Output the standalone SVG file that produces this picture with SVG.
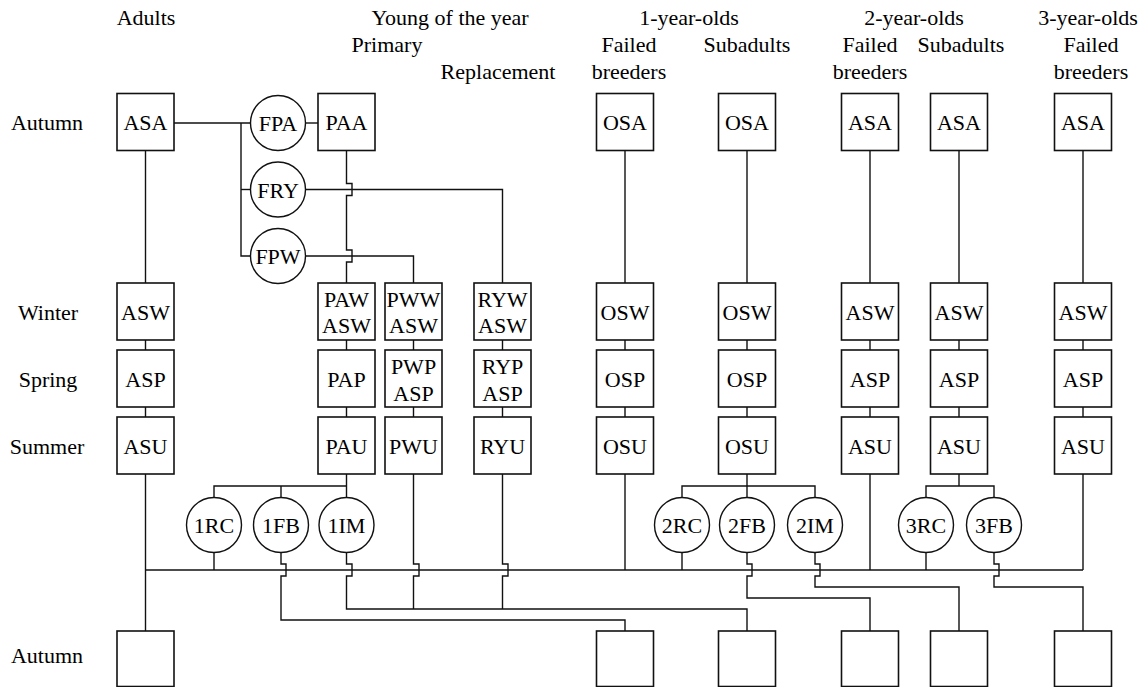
<svg xmlns="http://www.w3.org/2000/svg" width="1139" height="687" viewBox="0 0 1139 687">
  <style>
    text { font-size: 22px; fill: #000; text-anchor: middle; }
    .box { fill: #fff; stroke: #111; stroke-width: 1.6; }
    .state { fill: #fff; stroke: #111; stroke-width: 1.4; }
    .link { fill: none; stroke: #111; stroke-width: 1.4; }
  </style>
  <defs>
    <rect id="sq" class="box" width="57" height="57"/>
  </defs>
  <rect width="1139" height="687" fill="#fff"/>

  <g font-family="Liberation Serif, Tinos, Times New Roman, DejaVu Serif, serif">
  <!-- column headings -->
  <g id="headings">
    <text x="146" y="25">Adults</text>
    <text x="450" y="25">Young of the year</text>
    <text x="387" y="52">Primary</text>
    <text x="498" y="79">Replacement</text>
    <text x="689" y="25">1-year-olds</text>
    <text x="629" y="52">Failed</text>
    <text x="629" y="79">breeders</text>
    <text x="747" y="52">Subadults</text>
    <text x="914" y="25">2-year-olds</text>
    <text x="870" y="52">Failed</text>
    <text x="870" y="79">breeders</text>
    <text x="961" y="52">Subadults</text>
    <text x="1088" y="25">3-year-olds</text>
    <text x="1091" y="52">Failed</text>
    <text x="1091" y="79">breeders</text>
  </g>

  <!-- season labels -->
  <g id="seasons">
    <text x="47" y="130">Autumn</text>
    <text x="48" y="319.5">Winter</text>
    <text x="48" y="386.5">Spring</text>
    <text x="47" y="453.5">Summer</text>
    <text x="47" y="663">Autumn</text>
  </g>

  <!-- connectors -->
  <g id="connectors" class="link">
    <!-- autumn fledging split -->
    <path d="M174 123 H250.5"/>
    <path d="M241 123 V256 H250.5"/>
    <path d="M241 189.5 H250.5"/>
    <path d="M305.5 123 H318"/>
    <path d="M305.5 189.5 H502.5 V283"/>
    <path d="M305.5 256 H413.5 V283"/>
    <path d="M346.5 150 V183.5 H352 V195.5 H346.5 V250 H352 V262 H346.5 V283"/>
    <!-- autumn to winter -->
    <path d="M145.5 150 V283"/>
    <path d="M625 150 V283"/>
    <path d="M747 150 V283"/>
    <path d="M870 150 V283"/>
    <path d="M959 150 V283"/>
    <path d="M1083 150 V283"/>
    <!-- winter to spring, spring to summer -->
    <path d="M145.5 340 V350 M145.5 407 V417"/>
    <path d="M346.5 340 V350 M346.5 407 V417"/>
    <path d="M413.5 340 V350 M413.5 407 V417"/>
    <path d="M502.5 340 V350 M502.5 407 V417"/>
    <path d="M625 340 V350 M625 407 V417"/>
    <path d="M747 340 V350 M747 407 V417"/>
    <path d="M870 340 V350 M870 407 V417"/>
    <path d="M959 340 V350 M959 407 V417"/>
    <path d="M1083 340 V350 M1083 407 V417"/>
    <!-- adult survival bus -->
    <path d="M145.5 473 V631"/>
    <path d="M145.5 570 H1083"/>
    <!-- first-year fates -->
    <path d="M346.5 473 V497.5"/>
    <path d="M214 497.5 V486 H346.5"/>
    <path d="M281 486 V497.5"/>
    <path d="M214 552.5 V570"/>
    <path d="M281 552.5 V564 H286 V576 H281 V620 H625 V631"/>
    <path d="M346.5 552.5 V564 H352 V576 H346.5 V609 H747 V631"/>
    <path d="M413.5 473 V564 H419 V576 H413.5 V609"/>
    <path d="M502.5 473 V564 H508 V576 H502.5 V609"/>
    <!-- second-year fates -->
    <path d="M625 473 V570"/>
    <path d="M747 473 V497.5"/>
    <path d="M682 497.5 V486 H815 V497.5"/>
    <path d="M682 552.5 V570"/>
    <path d="M747 552.5 V564 H752 V576 H747 V598 H870 V631"/>
    <path d="M815 552.5 V564 H820 V576 H815 V587 H959 V631"/>
    <!-- third-year fates -->
    <path d="M870 473 V570"/>
    <path d="M959 473 V486"/>
    <path d="M926 497.5 V486 H994 V497.5"/>
    <path d="M926 552.5 V570"/>
    <path d="M994 552.5 V564 H999 V576 H994 V587 H1083 V631"/>
    <path d="M1083 473 V570"/>
  </g>

  <!-- adults -->
  <g id="ASA"><use href="#sq" x="117" y="93.5"/><text x="145.5" y="130">ASA</text></g>
  <g id="ASW"><use href="#sq" x="117" y="283"/><text x="145.5" y="319.5">ASW</text></g>
  <g id="ASP"><use href="#sq" x="117" y="350"/><text x="145.5" y="386.5">ASP</text></g>
  <g id="ASU"><use href="#sq" x="117" y="417"/><text x="145.5" y="453.5">ASU</text></g>

  <!-- fledging states -->
  <g id="FPA"><circle class="state" cx="278" cy="123" r="27.5"/><text x="278" y="131">FPA</text></g>
  <g id="FRY"><circle class="state" cx="278" cy="189.5" r="27.5"/><text x="278" y="197.5">FRY</text></g>
  <g id="FPW"><circle class="state" cx="278" cy="256" r="27.5"/><text x="278" y="264">FPW</text></g>

  <!-- young of the year, primary -->
  <g id="PAA"><use href="#sq" x="318" y="93.5"/><text x="346.5" y="130">PAA</text></g>
  <g id="PAW"><use href="#sq" x="318" y="283"/><text x="346.5" y="306.5">PAW</text><text x="346.5" y="332.5">ASW</text></g>
  <g id="PAP"><use href="#sq" x="318" y="350"/><text x="346.5" y="386.5">PAP</text></g>
  <g id="PAU"><use href="#sq" x="318" y="417"/><text x="346.5" y="453.5">PAU</text></g>
  <g id="PWW"><use href="#sq" x="385" y="283"/><text x="413.5" y="306.5">PWW</text><text x="413.5" y="332.5">ASW</text></g>
  <g id="PWP"><use href="#sq" x="385" y="350"/><text x="413.5" y="374">PWP</text><text x="413.5" y="400.5">ASP</text></g>
  <g id="PWU"><use href="#sq" x="385" y="417"/><text x="413.5" y="453.5">PWU</text></g>

  <!-- young of the year, replacement -->
  <g id="RYW"><use href="#sq" x="474" y="283"/><text x="502.5" y="306.5">RYW</text><text x="502.5" y="332.5">ASW</text></g>
  <g id="RYP"><use href="#sq" x="474" y="350"/><text x="502.5" y="374">RYP</text><text x="502.5" y="400.5">ASP</text></g>
  <g id="RYU"><use href="#sq" x="474" y="417"/><text x="502.5" y="453.5">RYU</text></g>

  <!-- first-year transitions -->
  <g id="1RC"><circle class="state" cx="214" cy="525" r="27.5"/><text x="214" y="533">1RC</text></g>
  <g id="1FB"><circle class="state" cx="281" cy="525" r="27.5"/><text x="281" y="533">1FB</text></g>
  <g id="1IM"><circle class="state" cx="346.5" cy="525" r="27.5"/><text x="346.5" y="533">1IM</text></g>

  <!-- 1-year-olds, failed breeders -->
  <g id="OSA-FB"><use href="#sq" x="596.5" y="93.5"/><text x="625" y="130">OSA</text></g>
  <g id="OSW-FB"><use href="#sq" x="596.5" y="283"/><text x="625" y="319.5">OSW</text></g>
  <g id="OSP-FB"><use href="#sq" x="596.5" y="350"/><text x="625" y="386.5">OSP</text></g>
  <g id="OSU-FB"><use href="#sq" x="596.5" y="417"/><text x="625" y="453.5">OSU</text></g>

  <!-- 1-year-olds, subadults -->
  <g id="OSA-SUB"><use href="#sq" x="718.5" y="93.5"/><text x="747" y="130">OSA</text></g>
  <g id="OSW-SUB"><use href="#sq" x="718.5" y="283"/><text x="747" y="319.5">OSW</text></g>
  <g id="OSP-SUB"><use href="#sq" x="718.5" y="350"/><text x="747" y="386.5">OSP</text></g>
  <g id="OSU-SUB"><use href="#sq" x="718.5" y="417"/><text x="747" y="453.5">OSU</text></g>

  <!-- second-year transitions -->
  <g id="2RC"><circle class="state" cx="682" cy="525" r="27.5"/><text x="682" y="533">2RC</text></g>
  <g id="2FB"><circle class="state" cx="747" cy="525" r="27.5"/><text x="747" y="533">2FB</text></g>
  <g id="2IM"><circle class="state" cx="815" cy="525" r="27.5"/><text x="815" y="533">2IM</text></g>

  <!-- 2-year-olds, failed breeders -->
  <g id="ASA-2FB"><use href="#sq" x="841.5" y="93.5"/><text x="870" y="130">ASA</text></g>
  <g id="ASW-2FB"><use href="#sq" x="841.5" y="283"/><text x="870" y="319.5">ASW</text></g>
  <g id="ASP-2FB"><use href="#sq" x="841.5" y="350"/><text x="870" y="386.5">ASP</text></g>
  <g id="ASU-2FB"><use href="#sq" x="841.5" y="417"/><text x="870" y="453.5">ASU</text></g>

  <!-- 2-year-olds, subadults -->
  <g id="ASA-2SUB"><use href="#sq" x="930.5" y="93.5"/><text x="959" y="130">ASA</text></g>
  <g id="ASW-2SUB"><use href="#sq" x="930.5" y="283"/><text x="959" y="319.5">ASW</text></g>
  <g id="ASP-2SUB"><use href="#sq" x="930.5" y="350"/><text x="959" y="386.5">ASP</text></g>
  <g id="ASU-2SUB"><use href="#sq" x="930.5" y="417"/><text x="959" y="453.5">ASU</text></g>

  <!-- third-year transitions -->
  <g id="3RC"><circle class="state" cx="926" cy="525" r="27.5"/><text x="926" y="533">3RC</text></g>
  <g id="3FB"><circle class="state" cx="994" cy="525" r="27.5"/><text x="994" y="533">3FB</text></g>

  <!-- 3-year-olds, failed breeders -->
  <g id="ASA-3FB"><use href="#sq" x="1054.5" y="93.5"/><text x="1083" y="130">ASA</text></g>
  <g id="ASW-3FB"><use href="#sq" x="1054.5" y="283"/><text x="1083" y="319.5">ASW</text></g>
  <g id="ASP-3FB"><use href="#sq" x="1054.5" y="350"/><text x="1083" y="386.5">ASP</text></g>
  <g id="ASU-3FB"><use href="#sq" x="1054.5" y="417"/><text x="1083" y="453.5">ASU</text></g>

  <!-- next autumn -->
  <g id="next-A"><rect class="box" x="117" y="631" width="57" height="55.5"/></g>
  <g id="next-OS-FB"><rect class="box" x="596.5" y="631" width="57" height="55.5"/></g>
  <g id="next-OS-SUB"><rect class="box" x="718.5" y="631" width="57" height="55.5"/></g>
  <g id="next-2FB"><rect class="box" x="841.5" y="631" width="57" height="55.5"/></g>
  <g id="next-2SUB"><rect class="box" x="930.5" y="631" width="57" height="55.5"/></g>
  <g id="next-3FB"><rect class="box" x="1054.5" y="631" width="57" height="55.5"/></g>
  </g>
</svg>
